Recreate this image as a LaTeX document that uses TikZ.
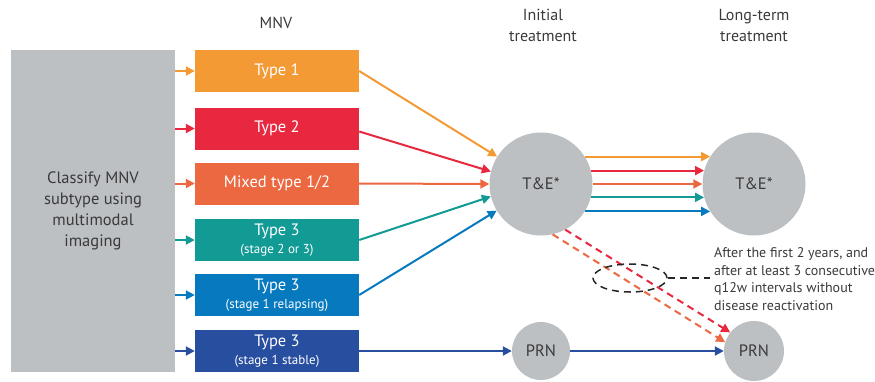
\documentclass[tikz,border=0pt]{standalone}
\usepackage{fontspec}
\setmainfont{PT Sans}
\usetikzlibrary{arrows.meta,shapes.geometric}
\definecolor{cOne}{HTML}{F39A35}
\definecolor{cTwo}{HTML}{E8283F}
\definecolor{cMix}{HTML}{EB6840}
\definecolor{cTeal}{HTML}{129A95}
\definecolor{cBlue}{HTML}{0779BF}
\definecolor{cDark}{HTML}{284EA0}
\definecolor{cGray}{HTML}{BCC0C2}
\definecolor{cText}{HTML}{3A3A3C}
\tikzset{
  grayblock/.style={fill=cGray, draw=none, minimum width=164pt, minimum height=322pt, inner sep=0pt, align=center, text=cText, font=\fontsize{16.5}{21}\selectfont},
  typebox/.style={fill=#1, draw=none, minimum width=164pt, minimum height=42pt, inner sep=0pt, align=center, text=white, font=\fontsize{16.5}{18}\selectfont},
  circ/.style={circle, fill=cGray, draw=none, minimum size=#1, inner sep=0pt, text=cText, font=\fontsize{16.5}{18}\selectfont},
  hdr/.style={align=center, text=cText, font=\fontsize{16}{21}\selectfont},
  arr/.style={draw=#1, line width=2pt, -{Triangle[length=9pt,width=9pt]}},
  darr/.style={draw=#1, line width=2pt, dash pattern=on 7pt off 5pt, -{Triangle[length=9pt,width=9pt]}},
}
\newcommand{\smalltxt}[1]{{\fontsize{13}{15}\selectfont #1}}
\begin{document}
\begin{tikzpicture}[x=1pt,y=-1pt]
\useasboundingbox (0,0) rectangle (875,381);

% headers
\node[hdr] (hMNV) at (276,23) {MNV};
\node[hdr] (hInit) at (543,25) {Initial\\treatment};
\node[hdr] (hLong) at (754,25) {Long-term\\treatment};

% classify block
\node[grayblock] (cls) at (93,211) {Classify MNV\\subtype using\\multimodal\\imaging};

% type boxes
\node[typebox=cOne]  (t1) at (277,71)    {Type 1};
\node[typebox=cTwo]  (t2) at (277,128.5) {Type 2};
\node[typebox=cMix]  (t12) at (277,183.5) {Mixed type 1/2};
\node[typebox=cTeal] (t3a) at (277,240)  {Type 3\\\smalltxt{(stage 2 or 3)}};
\node[typebox=cBlue] (t3b) at (277,295)  {Type 3\\\smalltxt{(stage 1 relapsing)}};
\node[typebox=cDark] (t3c) at (277,351)  {Type 3\\\smalltxt{(stage 1 stable)}};

% circles
\node[circ=103pt] (te1) at (541,184) {T\&E*};
\node[circ=103pt] (te2) at (754,184) {T\&E*};
\node[circ=58pt] (prn1) at (541,351) {PRN};
\node[circ=60pt] (prn2) at (754,351) {PRN};

% arrows from classify block
\draw[arr=cOne]  (cls.east |- t1.west)  -- (t1.west);
\draw[arr=cTwo]  (cls.east |- t2.west)  -- (t2.west);
\draw[arr=cMix]  (cls.east |- t12.west) -- (t12.west);
\draw[arr=cTeal] (cls.east |- t3a.west) -- (t3a.west);
\draw[arr=cBlue] (cls.east |- t3b.west) -- (t3b.west);
\draw[arr=cDark] (cls.east |- t3c.west) -- (t3c.west);

% arrows to initial treatment
\draw[arr=cOne]  (t1.east)  -- (te1.148);
\draw[arr=cTwo]  ([yshift=-3pt]t2.east)  -- (te1.166);
\draw[arr=cMix]  (t12.east) -- (te1.west);
\draw[arr=cTeal] (t3a.east) -- (te1.194);
\draw[arr=cBlue] (t3b.east) -- (te1.211);
\draw[arr=cDark] (t3c.east) -- (prn1.west);

% long-term arrows
\draw[arr=cOne]  (te1.32)  -- (te2.148);
\draw[arr=cTwo]  (te1.15)  -- (te2.165);
\draw[arr=cMix]  (te1.east) -- (te2.west);
\draw[arr=cTeal] (te1.-15) -- (te2.195);
\draw[arr=cBlue] (te1.-32) -- (te2.212);
\draw[arr=cDark] (prn1.east) -- (prn2.west);

% dashed switch arrows
\draw[darr=cTwo] (te1.-62) -- (prn2.142);
\draw[darr=cMix] (te1.-77) -- (prn2.163);

% annotation
\node[draw=black!85, line width=1.5pt, dash pattern=on 7pt off 5pt, ellipse, minimum width=74pt, minimum height=28pt, inner sep=0pt] (ell) at (630,278) {};
\coordinate (annL) at (710,278);
\draw[black!85, line width=1.5pt, dash pattern=on 7pt off 5pt] (ell.east) -- (annL);
\node[anchor=west, align=left, text=cText, font=\fontsize{14}{17.5}\selectfont, inner sep=0pt] (ann) at (714,279) {After the first 2 years, and\\after at least 3 consecutive\\q12w intervals without\\disease reactivation};
\end{tikzpicture}
\end{document}
